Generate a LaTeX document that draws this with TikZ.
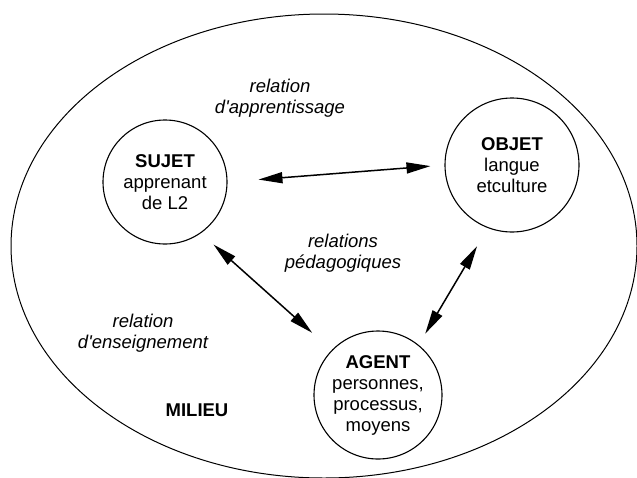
\documentclass[tikz,border=0pt]{standalone}
\usepackage{fontspec}
\setmainfont{Liberation Sans}
\usetikzlibrary{arrows.meta}

\begin{document}
\begin{tikzpicture}[x=1pt, y=-1pt, line width=1.1pt,
    font=\fontsize{18.5}{21}\selectfont,
    pole/.style={draw, circle, inner sep=0pt, align=center},
    rel/.style={line width=1.5pt, {Triangle[length=24pt,width=11pt]}-{Triangle[length=24pt,width=11pt]}},
    lbl/.style={align=center, font=\fontsize{18.5}{21}\selectfont\itshape}]

  \useasboundingbox (0,0) rectangle (637,477);

  % ---------- the milieu ----------
  \draw[line width=1pt] (324,246) ellipse [x radius=313, y radius=232];
  \node[font=\fontsize{18.5}{21}\selectfont\bfseries] (milieu) at (197,410) {MILIEU};

  % ---------- the three poles ----------
  \node[pole, minimum size=124pt] (sujet) at (165,182) {\textbf{SUJET}\\apprenant\\de L2};
  \node[pole, minimum size=134pt] (objet) at (512,165) {\textbf{OBJET}\\langue\\etculture};
  \node[pole, minimum size=128pt] (agent) at (378,395) {\textbf{AGENT}\\personnes,\\processus,\\moyens};

  % ---------- relations ----------
  \foreach \a/\b/\s/\e in {sujet.0/objet.180/31/14,
                           sujet.-55/agent.136/17/26,
                           objet.-111/agent.51/21/13}{
    \draw[rel, shorten <=\s pt, shorten >=\e pt] (\a) -- (\b);
  }

  \node[lbl] (apprent) at (280,98)  {relation\\d\textquotesingle apprentissage};
  \node[lbl] (pedago)  at (343,253) {relations\\pédagogiques};
  \node[lbl] (enseign) at (143,333) {relation\\d\textquotesingle enseignement};

\end{tikzpicture}
\end{document}
